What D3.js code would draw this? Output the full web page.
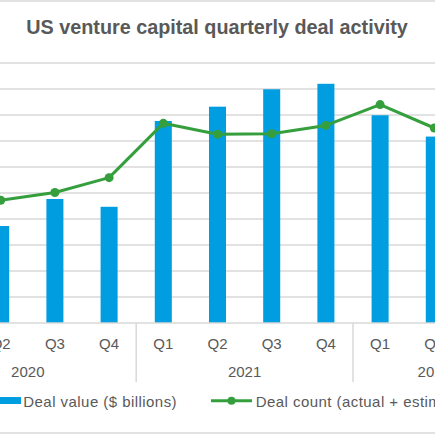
<!DOCTYPE html>
<html>
<head>
<meta charset="utf-8">
<script src="https://cdn.jsdelivr.net/npm/d3@7"></script>
<style>
  html, body { margin: 0; padding: 0; background: #fff; overflow: hidden; }
  svg { display: block; font-family: "Liberation Sans", Arial, sans-serif; }
</style>
</head>
<body>
<div id="chart"></div>
<script>
// chart data
var years = ["2020", "2021", "2022"];
var quarterLabels = ["Q1", "Q2", "Q3", "Q4", "Q1", "Q2", "Q3", "Q4", "Q1", "Q2", "Q3"];
var quarterYears = ["2020", "2020", "2020", "2020", "2021", "2021", "2021", "2021", "2022", "2022", "2022"];
var dealValue = [35.5, 37.3, 47.7, 44.7, 77.7, 83.2, 89.9, 92.0, 79.9, 71.7, 45.0];
var dealCount = [2600, 2360, 2510, 2795, 3840, 3630, 3640, 3800, 4200, 3750, 3300];
var seriesNames = ["Deal value ($ billions)", "Deal count (actual + estimated)"];

var width = 435;
var height = 435;
var blue = "#009de0";
var green = "#359f3e";
var grid = "#d9d9d9";
var textColor = "#595959";

var keys = quarterLabels.map(function(q, i) { return quarterYears[i] + " " + q; });

var svg = d3.select("#chart")
  .append("svg")
  .attr("width", width)
  .attr("height", height);

// chart border (left/right edges are outside the view)
svg.append("rect")
  .attr("x", -120).attr("y", 1)
  .attr("width", width + 240).attr("height", 432)
  .attr("fill", "none")
  .attr("stroke", grid)
  .attr("stroke-width", 1.5);

var plotTop = 63, plotBottom = 323;

var x = d3.scaleBand()
  .domain(keys)
  .range([-80.6, 515.6])
  .paddingInner(0.686)
  .paddingOuter(0.343);

var yLeft = d3.scaleLinear().domain([0, 100]).range([plotBottom, plotTop]);
var yRight = d3.scaleLinear().domain([0, 5000]).range([plotBottom, plotTop]);

// gridlines
svg.append("g")
  .selectAll("line")
  .data(yLeft.ticks(10).filter(function(d) { return d > 0; }))
  .enter()
  .append("line")
  .attr("x1", -81).attr("x2", 516)
  .attr("y1", function(d) { return yLeft(d); })
  .attr("y2", function(d) { return yLeft(d); })
  .attr("stroke", grid)
  .attr("stroke-width", 1.4);

// bars
svg.append("g")
  .selectAll("rect")
  .data(dealValue)
  .enter()
  .append("rect")
  .attr("x", function(d, i) { return x(keys[i]); })
  .attr("width", x.bandwidth())
  .attr("y", function(d) { return yLeft(d); })
  .attr("height", function(d) { return plotBottom - yLeft(d); })
  .attr("fill", blue);

// category axis line
svg.append("line")
  .attr("x1", -81).attr("x2", 516)
  .attr("y1", plotBottom).attr("y2", plotBottom)
  .attr("stroke", grid)
  .attr("stroke-width", 1.5);

// deal count line
var line = d3.line()
  .x(function(d, i) { return x(keys[i]) + x.bandwidth() / 2; })
  .y(function(d) { return yRight(d); });

svg.append("path")
  .datum(dealCount)
  .attr("d", line)
  .attr("fill", "none")
  .attr("stroke", green)
  .attr("stroke-width", 3)
  .attr("stroke-linejoin", "round");

svg.append("g")
  .selectAll("circle")
  .data(dealCount)
  .enter()
  .append("circle")
  .attr("cx", function(d, i) { return x(keys[i]) + x.bandwidth() / 2; })
  .attr("cy", function(d) { return yRight(d); })
  .attr("r", 4.5)
  .attr("fill", green);

// quarter labels
svg.append("g")
  .selectAll("text")
  .data(quarterLabels)
  .enter()
  .append("text")
  .attr("x", function(d, i) { return x(keys[i]) + x.bandwidth() / 2; })
  .attr("y", 348.5)
  .attr("text-anchor", "middle")
  .attr("font-size", "15px")
  .attr("fill", textColor)
  .text(function(d) { return d; });

// year groups
var step = x.step();
var gap = (step - x.bandwidth()) / 2;
var yearSpans = years.map(function(yr) {
  var ks = keys.filter(function(k, i) { return quarterYears[i] === yr; });
  return { year: yr, x0: x(ks[0]) - gap, x1: x(ks[ks.length - 1]) + x.bandwidth() + gap };
});

svg.append("g")
  .selectAll("line")
  .data(yearSpans)
  .enter()
  .append("line")
  .attr("x1", function(d) { return d.x0; })
  .attr("x2", function(d) { return d.x0; })
  .attr("y1", plotBottom)
  .attr("y2", 382)
  .attr("stroke", grid)
  .attr("stroke-width", 1.5);

svg.append("g")
  .selectAll("text")
  .data(yearSpans)
  .enter()
  .append("text")
  .attr("x", function(d) { return (d.x0 + d.x1) / 2; })
  .attr("y", 376.5)
  .attr("text-anchor", "middle")
  .attr("font-size", "15px")
  .attr("fill", textColor)
  .text(function(d) { return d.year; });

// title
svg.append("text")
  .attr("x", 217)
  .attr("y", 34)
  .attr("text-anchor", "middle")
  .attr("font-size", "19.8px")
  .attr("font-weight", "bold")
  .attr("fill", textColor)
  .text("US venture capital quarterly deal activity");

// legend
var legend = svg.append("g");
legend.append("rect")
  .attr("x", -10).attr("y", 397)
  .attr("width", 31).attr("height", 7)
  .attr("fill", blue);
legend.append("text")
  .attr("x", 23.3).attr("y", 407)
  .attr("font-size", "15px")
  .attr("letter-spacing", "0.45px")
  .attr("fill", textColor)
  .text(seriesNames[0]);
legend.append("line")
  .attr("x1", 211).attr("x2", 252)
  .attr("y1", 400.7).attr("y2", 400.7)
  .attr("stroke", green)
  .attr("stroke-width", 3);
legend.append("circle")
  .attr("cx", 231.5).attr("cy", 400.7)
  .attr("r", 4)
  .attr("fill", green);
legend.append("text")
  .attr("x", 255.7).attr("y", 407)
  .attr("font-size", "15px")
  .attr("letter-spacing", "0.45px")
  .attr("fill", textColor)
  .text(seriesNames[1]);
</script>
</body>
</html>
